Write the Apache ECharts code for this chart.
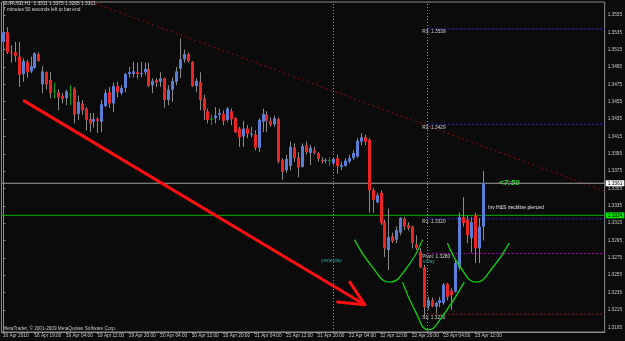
<!DOCTYPE html>
<html><head><meta charset="utf-8">
<script src="https://cdn.jsdelivr.net/npm/echarts@6/dist/echarts.min.js"></script>
<style>html,body{margin:0;padding:0;background:#0b0b0b}#c{width:625px;height:341px}</style>
</head><body><div id="c"></div>
<script>
const opens=[1.3524,1.3535,1.3512,1.3512,1.3507,1.3487,1.3501,1.3490,1.3494,1.3510,1.3475,1.3489,1.3480,1.3467,1.3466,1.3462,1.3459,1.3463,1.3470,1.3441,1.3453,1.3447,1.3435,1.3432,1.3435,1.3432,1.3450,1.3466,1.3453,1.3473,1.3465,1.3471,1.3487,1.3487,1.3489,1.3487,1.3489,1.3493,1.3474,1.3480,1.3478,1.3482,1.3457,1.3469,1.3478,1.3493,1.3504,1.3510,1.3501,1.3473,1.3478,1.3459,1.3444,1.3435,1.3436,1.3440,1.3441,1.3434,1.3444,1.3436,1.3424,1.3415,1.3424,1.3417,1.3417,1.3402,1.3432,1.3440,1.3433,1.3429,1.3435,1.3388,1.3376,1.3381,1.3402,1.3391,1.3380,1.3405,1.3396,1.3399,1.3396,1.3388,1.3387,1.3387,1.3384,1.3390,1.3380,1.3381,1.3386,1.3390,1.3392,1.3409,1.3414,1.3411,1.3353,1.3339,1.3350,1.3316,1.3284,1.3300,1.3296,1.3304,1.3320,1.3313,1.3311,1.3291,1.3282,1.3264,1.3219,1.3226,1.3219,1.3223,1.3223,1.3245,1.3237,1.3236,1.3264,1.3322,1.3319,1.3298,1.3324,1.3286,1.3311];
const closes=[1.3535,1.3512,1.3511,1.3508,1.3486,1.3502,1.3489,1.3496,1.3511,1.3502,1.3490,1.3475,1.3465,1.3467,1.3460,1.3458,1.3467,1.3463,1.3440,1.3455,1.3445,1.3434,1.3430,1.3435,1.3433,1.3452,1.3465,1.3453,1.3473,1.3466,1.3471,1.3487,1.3489,1.3490,1.3487,1.3488,1.3493,1.3473,1.3479,1.3477,1.3482,1.3457,1.3469,1.3479,1.3490,1.3504,1.3510,1.3502,1.3473,1.3479,1.3457,1.3445,1.3434,1.3435,1.3439,1.3442,1.3433,1.3447,1.3435,1.3420,1.3414,1.3424,1.3418,1.3418,1.3402,1.3434,1.3441,1.3433,1.3428,1.3436,1.3386,1.3374,1.3389,1.3403,1.3390,1.3379,1.3404,1.3397,1.3402,1.3396,1.3389,1.3386,1.3388,1.3387,1.3389,1.3381,1.3382,1.3387,1.3390,1.3396,1.3410,1.3414,1.3409,1.3353,1.3342,1.3347,1.3315,1.3286,1.3299,1.3294,1.3307,1.3321,1.3311,1.3309,1.3292,1.3286,1.3264,1.3218,1.3226,1.3219,1.3223,1.3226,1.3244,1.3230,1.3232,1.3269,1.3322,1.3315,1.3301,1.3316,1.3286,1.3311,1.3361];
const lows=[1.3520,1.3510,1.3500,1.3501,1.3472,1.3478,1.3483,1.3488,1.3493,1.3501,1.3465,1.3469,1.3459,1.3459,1.3445,1.3453,1.3451,1.3451,1.3430,1.3434,1.3440,1.3422,1.3420,1.3425,1.3419,1.3420,1.3449,1.3448,1.3443,1.3460,1.3463,1.3466,1.3483,1.3483,1.3482,1.3483,1.3486,1.3472,1.3465,1.3472,1.3472,1.3448,1.3451,1.3455,1.3474,1.3482,1.3500,1.3500,1.3472,1.3466,1.3445,1.3434,1.3430,1.3428,1.3430,1.3434,1.3428,1.3432,1.3428,1.3419,1.3403,1.3403,1.3413,1.3414,1.3399,1.3397,1.3420,1.3420,1.3426,1.3426,1.3384,1.3365,1.3373,1.3376,1.3386,1.3368,1.3379,1.3394,1.3382,1.3394,1.3386,1.3384,1.3384,1.3381,1.3382,1.3372,1.3376,1.3380,1.3384,1.3388,1.3390,1.3405,1.3405,1.3327,1.3327,1.3338,1.3313,1.3276,1.3261,1.3292,1.3292,1.3301,1.3307,1.3307,1.3286,1.3284,1.3263,1.3207,1.3215,1.3218,1.3211,1.3218,1.3221,1.3226,1.3215,1.3235,1.3261,1.3311,1.3292,1.3281,1.3269,1.3269,1.3295];
const highs=[1.3542,1.3541,1.3520,1.3524,1.3524,1.3505,1.3503,1.3507,1.3512,1.3512,1.3496,1.3490,1.3489,1.3477,1.3469,1.3465,1.3469,1.3474,1.3472,1.3462,1.3457,1.3449,1.3442,1.3442,1.3437,1.3457,1.3469,1.3472,1.3477,1.3478,1.3474,1.3488,1.3495,1.3501,1.3500,1.3501,1.3500,1.3500,1.3482,1.3482,1.3489,1.3483,1.3474,1.3483,1.3495,1.3528,1.3515,1.3512,1.3502,1.3482,1.3489,1.3463,1.3447,1.3440,1.3449,1.3447,1.3445,1.3449,1.3447,1.3437,1.3426,1.3433,1.3428,1.3426,1.3422,1.3436,1.3447,1.3444,1.3437,1.3439,1.3437,1.3390,1.3394,1.3409,1.3407,1.3397,1.3407,1.3409,1.3405,1.3403,1.3397,1.3391,1.3390,1.3391,1.3391,1.3394,1.3386,1.3390,1.3394,1.3399,1.3413,1.3419,1.3417,1.3413,1.3356,1.3350,1.3353,1.3319,1.3332,1.3304,1.3311,1.3322,1.3322,1.3316,1.3312,1.3301,1.3286,1.3267,1.3230,1.3229,1.3224,1.3230,1.3246,1.3246,1.3240,1.3273,1.3327,1.3345,1.3324,1.3322,1.3327,1.3321,1.3375];
const tickLabels=['16 Apr 2010','16 Apr 19:00','19 Apr 04:00','19 Apr 12:00','19 Apr 20:00','20 Apr 04:00','20 Apr 12:00','20 Apr 20:00','21 Apr 04:00','21 Apr 12:00','21 Apr 20:00','22 Apr 04:00','22 Apr 12:00','22 Apr 20:00','23 Apr 04:00','23 Apr 12:00'];
const barsPerTick=8;
const priceTicks=[1.3195,1.3215,1.3235,1.3255,1.3275,1.3295,1.3315,1.3335,1.3355,1.3375,1.3395,1.3415,1.3435,1.3455,1.3475,1.3495,1.3515,1.3535,1.3555];
const levelNames=['R3','R2','R1','Pivot','S1'];
const levelValues=[1.3539,1.3429,1.3320,1.3280,1.3210];
const levelColors=['#2b2bd8','#2b2bd8','#2b2bd8','#b800b8','#921c1c'];
const levelStart=108;
const daySeparators=[84,108];
const lastPrice=1.3361;
const necklinePrice=1.3324;
const trendLine=[[22.4,1.3570],[153.0,1.3352]];
const arrowShaft=[[5.4,1.3456],[92.0,1.3221]];
const arrowHead=[[88.2,1.3247],[92.0,1.3221],[85.1,1.3224]];
const leftShoulder=[[89.4,1.3296],[94.0,1.3264],[98.3,1.3247],[102.6,1.3263],[106.7,1.3296]];
const headCurve=[[101.6,1.3247],[104.9,1.3213],[108.2,1.3192],[111.5,1.3206],[117.3,1.3247]];
const rightShoulder=[[113.0,1.3292],[116.5,1.3263],[120.3,1.3247],[124.4,1.3263],[128.7,1.3292]];

const FONT='Liberation Sans';
const candleData=opens.map((o,i)=>[i,o,closes[i],lows[i],highs[i]]);
const tickIdx=tickLabels.map((_,i)=>i*barsPerTick);
const xMin=-0.4, xMax=153.0;

function renderCandle(params,api){
  const i=api.value(0),o=api.value(1),c=api.value(2),l=api.value(3),h=api.value(4);
  const pO=api.coord([i,o]),pC=api.coord([i,c]),pL=api.coord([i,l]),pH=api.coord([i,h]);
  const x=Math.round(pO[0])+0.5;
  const doji=o===c, bull=c>o;
  const wick=doji?'#00a000':'#8a8a8a';
  const body=doji?'#00a000':(bull?'#5a7ed6':'#ec2424');
  const top=Math.min(pO[1],pC[1]),bot=Math.max(pO[1],pC[1]);
  return {type:'group',children:[
    {type:'line',shape:{x1:x,y1:pH[1],x2:x,y2:pL[1]},style:{stroke:wick,lineWidth:1}},
    {type:'rect',shape:{x:x-1.5,y:doji?pO[1]-0.5:top,width:3,height:doji?1:Math.max(1,bot-top)},style:{fill:body}}
  ]};
}

const hidden={color:'rgba(0,0,0,0)'};
const levelSeries=levelValues.map((v,k)=>({
  type:'line',silent:true,z:2,symbol:'circle',symbolSize:1,showSymbol:true,itemStyle:hidden,
  lineStyle:{color:levelColors[k],type:[2,2],width:1},
  data:[{value:[levelStart,v],label:{show:true,position:[-5,1],align:'left',verticalAlign:'top',
      formatter:levelNames[k]+': '+v.toFixed(4),color:'#d0d0d0',fontSize:4.8,fontFamily:FONT}},
    {value:[xMax,v],label:{show:false}}]
}));
function priceLine(v,lineColor,boxColor){
  return {type:'line',silent:true,z:2,symbol:'none',
    lineStyle:{color:lineColor,type:'solid',width:1},
    data:[[xMin,v],[xMax,v]],
    endLabel:{show:true,distance:1,formatter:v.toFixed(4),color:'#000',backgroundColor:boxColor,
      padding:[1,2,0,2],fontSize:4.8,fontFamily:FONT}};
}

const chart=echarts.init(document.getElementById('c'),null,{renderer:'canvas'});
chart.setOption({
  backgroundColor:'#0b0b0b',
  animation:false,
  grid:{left:0,right:19,top:2,bottom:9,show:true,borderColor:'#8c8c8c',borderWidth:1,backgroundColor:'transparent'},
  xAxis:{type:'value',min:xMin,max:xMax,
    axisLine:{show:true,lineStyle:{color:'#8c8c8c'}},
    axisTick:{show:true,customValues:tickIdx,length:2,lineStyle:{color:'#8c8c8c'}},
    axisLabel:{customValues:tickIdx,align:'left',margin:1.5,fontSize:4.7,fontFamily:FONT,color:'#c8c8c8',
      formatter:v=>tickLabels[Math.round(v/barsPerTick)]||''},
    splitLine:{show:false}},
  yAxis:{type:'value',position:'right',min:1.31895,max:1.3570,
    axisLine:{show:true,lineStyle:{color:'#8c8c8c'}},
    axisTick:{show:true,customValues:priceTicks,length:2.5,lineStyle:{color:'#8c8c8c'}},
    axisLabel:{customValues:priceTicks,margin:3,fontSize:4.7,fontFamily:FONT,color:'#c8c8c8',formatter:v=>v.toFixed(4)},
    splitLine:{show:false}},
  graphic:[
    {type:'text',left:3,top:1,style:{text:'EURUSD,H1  1.3311 1.3375 1.3295 1.3361',fill:'#d8d8d8',font:'4.8px '+FONT}},
    {type:'text',left:3,top:7.5,style:{text:'7 minutes 50 seconds left to bar end',fill:'#d8d8d8',font:'4.8px '+FONT}},
    {type:'text',left:3,top:326,style:{text:'MetaTrader, \u00a9 2001-2009 MetaQuotes Software Corp.',fill:'#c8c8c8',font:'4.7px '+FONT}},
    {type:'text',left:499,top:179,style:{text:'<7:50',fill:'#22e022',font:'italic bold 8px '+FONT}},
    {type:'text',left:488,top:205.5,style:{text:'Inv H&S neckline pierced',fill:'#e8e8e8',font:'5px '+FONT}},
    {type:'text',left:321,top:258,style:{text:'yesterday',fill:'#3c9c9c',font:'4.8px '+FONT}},
    {type:'text',left:423,top:259.5,style:{text:'today',fill:'#3c9c9c',font:'4.8px '+FONT}}
  ],
  series:[
    {type:'line',data:[],silent:true,
      markLine:{silent:true,symbol:['none','none'],animation:false,precision:5,
        data:daySeparators.map(d=>({xAxis:d,lineStyle:{color:'#8a8a8a',type:[1,2],width:1},label:{show:false}}))}},
    ...levelSeries,
    priceLine(lastPrice,'#a0a0a0','#ffffff'),
    priceLine(necklinePrice,'#00b000','#00e600'),
    {type:'line',data:trendLine,symbol:'none',lineStyle:{color:'#9a0a0a',type:[2,3],width:1},silent:true,z:1},
    {type:'custom',renderItem:renderCandle,data:candleData,encode:{x:0,y:[1,2,3,4]},z:3},
    {type:'line',data:arrowShaft,symbol:'none',lineStyle:{color:'#ff1010',width:3,cap:'round'},silent:true,z:4},
    {type:'line',data:arrowHead,symbol:'none',lineStyle:{color:'#ff1010',width:3,cap:'round',join:'round'},silent:true,z:4},
    {type:'line',data:leftShoulder,smooth:0.5,symbol:'none',lineStyle:{color:'#10d010',width:1.3},silent:true,z:4},
    {type:'line',data:headCurve,smooth:0.5,symbol:'none',lineStyle:{color:'#10d010',width:1.3},silent:true,z:4},
    {type:'line',data:rightShoulder,smooth:0.5,symbol:'none',lineStyle:{color:'#10d010',width:1.3},silent:true,z:4}
  ]
});
</script></body></html>
